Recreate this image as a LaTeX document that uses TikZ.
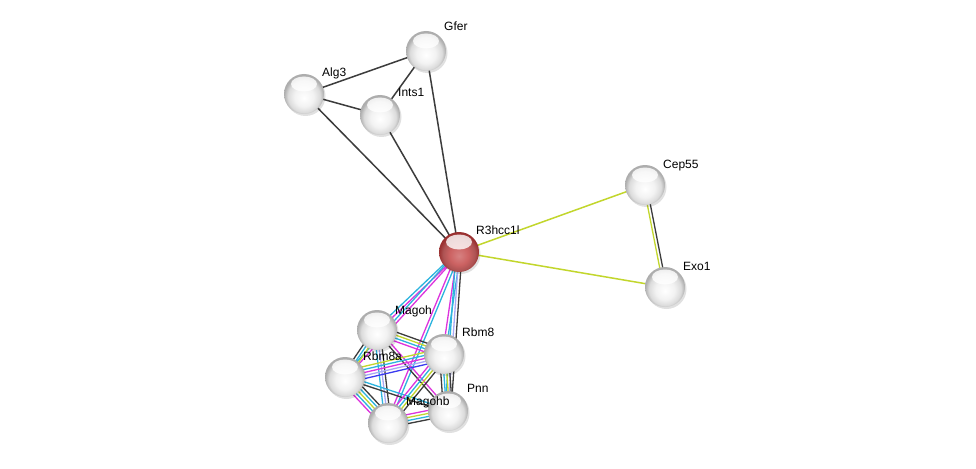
\documentclass[tikz,border=0pt]{standalone}
\usepackage{fontspec}
\setmainfont{Liberation Sans}
\usetikzlibrary{calc}
\definecolor{ygreen}{HTML}{C2D62C}
\definecolor{ecyan}{HTML}{2CB4DE}
\definecolor{emag}{HTML}{DD33DD}
\definecolor{eblue}{HTML}{3A3AF0}
\definecolor{elav}{HTML}{A8A8F5}
\definecolor{egray}{HTML}{3C3C3C}
\definecolor{rmid}{HTML}{CC6262}
\definecolor{rrim}{HTML}{9A3030}
\pgfdeclareradialshading{stringball}{\pgfpoint{0bp}{-5bp}}{color(0bp)=(white); color(12bp)=(black!5); color(20bp)=(black!14); color(25bp)=(black!32); color(50bp)=(black!32)}
\pgfdeclareradialshading{redball}{\pgfpoint{0bp}{-5bp}}{color(0bp)=(rmid!80!white); color(12bp)=(rmid); color(20bp)=(rmid!85!black); color(25bp)=(rrim); color(50bp)=(rrim)}
\newcommand\bund[4]{\foreach \ec [count=\ei] in {#4}{\pgfmathsetmacro\eoff{(\ei-(#3+1)/2)*3}\draw[\ec,line width=1.3pt] ($(#1)!\eoff pt!90:(#2)$) -- ($(#2)!\eoff pt!-90:(#1)$);}}
\tikzset{
  prot/.style={circle,minimum size=40pt,inner sep=0pt,shading=stringball,
    path picture={\fill[white,opacity=.8] ($(path picture bounding box.center)+(0,-10)$) ellipse (13 and 7.5);}},
  query/.style={prot,shading=redball},
  shadow/.style={circle,minimum size=40pt,inner sep=0pt,fill=black,opacity=.12},
  lbl/.style={anchor=base west,inner sep=0pt,font=\fontsize{12}{14}\selectfont},
  plain/.style={egray,line width=1.5pt},
  tm/.style={ygreen,line width=1.5pt}
}
\begin{document}
\begin{tikzpicture}[x=1pt,y=-1pt]
\useasboundingbox (0,0) rectangle (976,468);
\fill[white] (0,0) rectangle (976,468);
% node positions
\coordinate (gferc) at (426,51);
\coordinate (alg3c) at (304,94);
\coordinate (ints1c) at (380,115);
\coordinate (rc) at (459,252);
\coordinate (cep55c) at (645,185);
\coordinate (exo1c) at (665,287);
\coordinate (magohc) at (377,330);
\coordinate (rbm8c) at (444,354);
\coordinate (rbm8ac) at (345,377);
\coordinate (pnnc) at (448,411);
\coordinate (magohbc) at (388,423);
% edges
\draw[plain] (alg3c) -- (gferc);
\draw[plain] (alg3c) -- (ints1c);
\draw[plain] (alg3c) -- (rc);
\draw[plain] (ints1c) -- (gferc);
\draw[plain] (ints1c) -- (rc);
\draw[plain] (gferc) -- (rc);
\draw[tm] (rc) -- (cep55c);
\draw[tm] (rc) -- (exo1c);
\bund{cep55c}{exo1c}{2}{ygreen,egray}
\bund{rc}{magohc}{2}{ecyan,emag}
\bund{rc}{rbm8ac}{2}{ecyan,emag}
\bund{rc}{magohbc}{2}{emag,ecyan}
\bund{rc}{rbm8c}{2}{emag,ecyan}
\bund{rc}{pnnc}{3}{ecyan,elav,egray}
\bund{magohc}{rbm8c}{4}{emag,ecyan,ygreen,egray}
\bund{magohc}{rbm8ac}{3}{egray,ecyan,ygreen}
\bund{magohc}{magohbc}{3}{ecyan,elav,egray}
\bund{magohc}{pnnc}{2}{egray,emag}
\bund{rbm8ac}{rbm8c}{5}{eblue,elav,emag,ecyan,ygreen}
\bund{rbm8ac}{magohbc}{5}{emag,ecyan,ygreen,ecyan,egray}
\bund{rbm8ac}{pnnc}{2}{egray,ecyan}
\bund{rbm8c}{magohbc}{4}{emag,ecyan,ygreen,egray}
\bund{rbm8c}{pnnc}{4}{egray,ecyan,ygreen,egray}
\bund{magohbc}{pnnc}{4}{egray,ecyan,ygreen,emag}
% shadows
\foreach \p in {gferc,alg3c,ints1c,rc,cep55c,exo1c,magohc,rbm8c,rbm8ac,pnnc,magohbc}
  \node[shadow] at ($(\p)+(1.5,2)$) {};
% nodes
\node[prot] (gfer) at (gferc) {};
\node[prot] (alg3) at (alg3c) {};
\node[prot] (ints1) at (ints1c) {};
\node[query] (r3) at (rc) {};
\node[prot] (cep55) at (cep55c) {};
\node[prot] (exo1) at (exo1c) {};
\node[prot] (magoh) at (magohc) {};
\node[prot] (rbm8) at (rbm8c) {};
\node[prot] (rbm8a) at (rbm8ac) {};
\node[prot] (pnn) at (pnnc) {};
\node[prot] (magohb) at (magohbc) {};
% labels
\node[lbl] (lgfer) at (444,31) {Gfer};
\node[lbl] (lalg3) at (322,77) {Alg3};
\node[lbl] (lints1) at (398,97) {Ints1};
\node[lbl] (lr3) at (476,234) {R3hcc1l};
\node[lbl] (lcep55) at (663,168) {Cep55};
\node[lbl] (lexo1) at (683,270) {Exo1};
\node[lbl] (lmagoh) at (395,314) {Magoh};
\node[lbl] (lrbm8) at (462,336) {Rbm8};
\node[lbl] (lrbm8a) at (363,360) {Rbm8a};
\node[lbl] (lpnn) at (467,392) {Pnn};
\node[lbl] (lmagohb) at (406,405) {Magohb};
\end{tikzpicture}
\end{document}
